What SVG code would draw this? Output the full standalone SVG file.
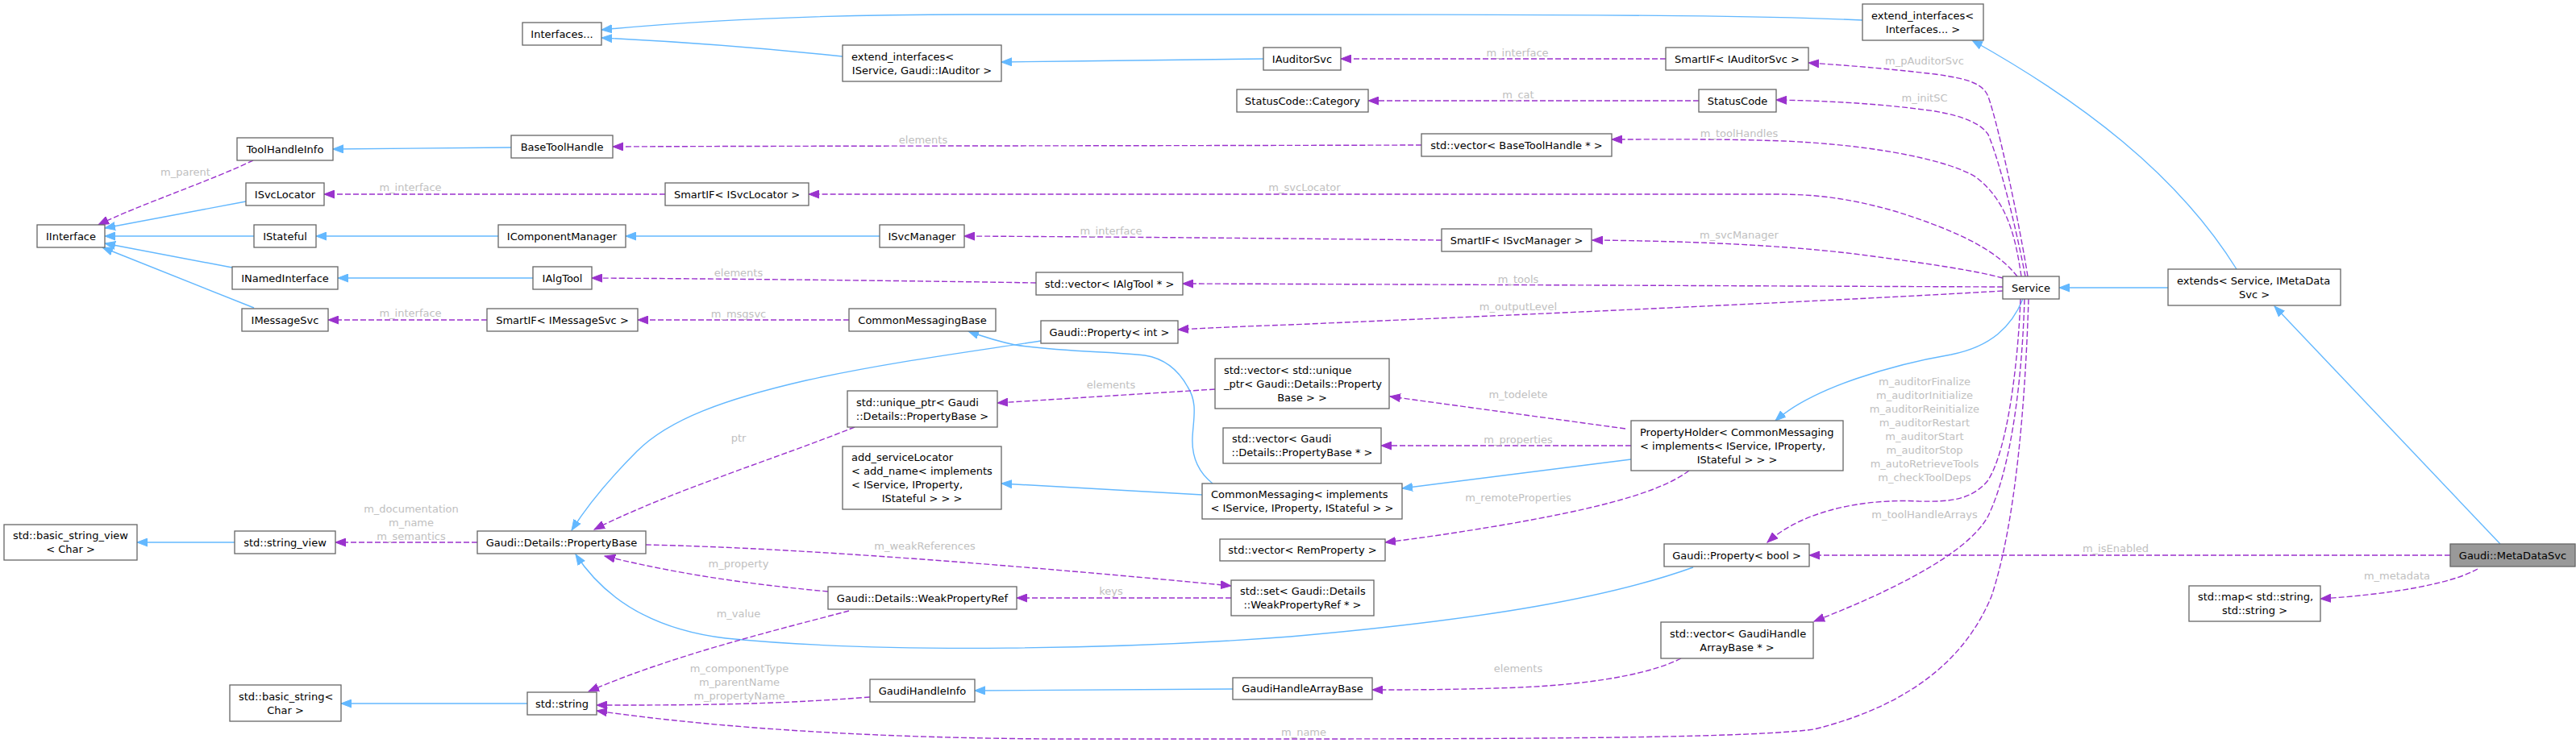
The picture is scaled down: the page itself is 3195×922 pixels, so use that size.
<svg xmlns="http://www.w3.org/2000/svg" width="3195" height="922" viewBox="0 0 3195 922">
<style>
.n rect{fill:#ffffff;stroke:#666666;stroke-width:1.3}
.n text{font-family:"DejaVu Sans",sans-serif;font-size:13px;fill:#000000}
.c{text-anchor:middle}
.s{text-anchor:start}
.lb{font-family:"DejaVu Sans",sans-serif;font-size:13px;fill:#c0c0c0;text-anchor:middle}
.b{fill:none;stroke:#63b8ff;stroke-width:1.4}
.p{fill:none;stroke:#9a32cd;stroke-width:1.4;stroke-dasharray:7,3}
</style>
<defs>
<marker id="ab" markerUnits="userSpaceOnUse" markerWidth="14" markerHeight="11" viewBox="0 0 14 11" refX="13" refY="5.5" orient="auto"><path d="M0,0.5 L13,5.5 L0,10.5 z" fill="#63b8ff" stroke="#63b8ff" stroke-width="1"/></marker>
<marker id="ap" markerUnits="userSpaceOnUse" markerWidth="14" markerHeight="11" viewBox="0 0 14 11" refX="13" refY="5.5" orient="auto"><path d="M0,0.5 L13,5.5 L0,10.5 z" fill="#9a32cd" stroke="#9a32cd" stroke-width="1"/></marker>
</defs>
<rect x="0" y="0" width="3195" height="922" fill="#ffffff"/>

<g id="connectors">
<!-- inheritance (blue) -->
<path class="b" marker-end="url(#ab)" d="M2310,25 C2200,20 2050,18 1600,18 L1200,18 C1000,18 850,27 746,37"/>
<path class="b" marker-end="url(#ab)" d="M1045,70 C950,60 850,52 746,47"/>
<path class="b" marker-end="url(#ab)" d="M1567,73 C1450,74 1350,76 1242,77"/>
<path class="b" marker-end="url(#ab)" d="M634,183 C550,183.5 480,184.5 413,185"/>
<path class="b" marker-end="url(#ab)" d="M305,250 L130,283"/>
<path class="b" marker-end="url(#ab)" d="M315,293 L130,293"/>
<path class="b" marker-end="url(#ab)" d="M288,332 L130,302"/>
<path class="b" marker-end="url(#ab)" d="M315,382 L127,307"/>
<path class="b" marker-end="url(#ab)" d="M618,293 L392,293"/>
<path class="b" marker-end="url(#ab)" d="M1091,293 L776,293"/>
<path class="b" marker-end="url(#ab)" d="M661,345 L419,345"/>
<path class="b" marker-end="url(#ab)" d="M1504,600 C1485,585 1478,565 1479,543 C1480,520 1486,500 1473,480 C1462,460 1445,445 1420,441 C1380,436 1320,437 1259,428 C1240,424 1220,418 1201,411"/>
<path class="b" marker-end="url(#ab)" d="M1291,423 C1200,437 1100,450 1000,472 C900,495 830,520 790,560 C760,590 730,625 709,658"/>
<path class="b" marker-end="url(#ab)" d="M2100,704 C2000,740 1850,768 1600,790 C1400,805 1100,812 900,792 C800,780 745,735 714,688"/>
<path class="b" marker-end="url(#ab)" d="M1491,614 L1242,600"/>
<path class="b" marker-end="url(#ab)" d="M2023,570 L1739,606"/>
<path class="b" marker-end="url(#ab)" d="M2509,371 C2495,405 2470,430 2420,440 C2350,452 2250,480 2202,522"/>
<path class="b" marker-end="url(#ab)" d="M2689,357 L2554,357"/>
<path class="b" marker-end="url(#ab)" d="M2774,334 C2700,215 2580,125 2446,50"/>
<path class="b" marker-end="url(#ab)" d="M3101,675 L2821,380"/>
<path class="b" marker-end="url(#ab)" d="M1529,855 L1209,857"/>
<path class="b" marker-end="url(#ab)" d="M654,873 L423,873"/>
<path class="b" marker-end="url(#ab)" d="M291,673 L170,673"/>

<!-- usage (purple dashed) -->
<path class="p" marker-end="url(#ap)" d="M314,199 C260,225 170,255 122,279"/>
<text class="lb" x="230" y="217.5">m_parent</text>
<path class="p" marker-end="url(#ap)" d="M825,241 L402,241"/>
<text class="lb" x="509" y="236.5">m_interface</text>
<path class="p" marker-end="url(#ap)" d="M604,397 L407,397"/>
<text class="lb" x="509" y="392.5">m_interface</text>
<path class="p" marker-end="url(#ap)" d="M1285,351 C1100,348 900,346 734,345"/>
<text class="lb" x="916" y="342.5">elements</text>
<path class="p" marker-end="url(#ap)" d="M1053,397 L791,397"/>
<text class="lb" x="916" y="393.5">m_msgsvc</text>
<path class="p" marker-end="url(#ap)" d="M1763,180 C1400,181 1000,181 760,182"/>
<text class="lb" x="1145" y="177.5">elements</text>
<path class="p" marker-end="url(#ap)" d="M2066,73 L1663,73"/>
<text class="lb" x="1882" y="69.5">m_interface</text>
<path class="p" marker-end="url(#ap)" d="M2107,125 L1697,125"/>
<text class="lb" x="1883" y="121.5">m_cat</text>
<path class="p" marker-end="url(#ap)" d="M1788,298 C1600,296 1400,294 1196,293"/>
<text class="lb" x="1378" y="290.5">m_interface</text>
<path class="p" marker-end="url(#ap)" d="M2515,343 C2505,280 2480,160 2466,120 C2460,105 2445,98 2400,92 C2340,85 2290,81 2243,78"/>
<text class="lb" x="2387" y="79.5">m_pAuditorSvc</text>
<path class="p" marker-end="url(#ap)" d="M2512,343 C2500,280 2480,200 2466,167 C2458,155 2440,145 2400,138 C2330,128 2260,125 2203,124"/>
<text class="lb" x="2387" y="125.5">m_initSC</text>
<path class="p" marker-end="url(#ap)" d="M2507,343 C2500,295 2490,250 2451,220 C2420,200 2330,180 2212,175 C2130,172 2060,173 1999,173"/>
<text class="lb" x="2157" y="169.5">m_toolHandles</text>
<path class="p" marker-end="url(#ap)" d="M2502,343 C2480,315 2440,290 2350,262 C2290,245 2250,241 2200,241 L1003,241"/>
<text class="lb" x="1618" y="236.5">m_svcLocator</text>
<path class="p" marker-end="url(#ap)" d="M2484,345 C2450,336 2400,328 2300,315 C2200,303 2080,299 1975,298"/>
<text class="lb" x="2157" y="295.5">m_svcManager</text>
<path class="p" marker-end="url(#ap)" d="M2484,356 C2200,355 1800,353 1467,352"/>
<text class="lb" x="1883" y="350.5">m_tools</text>
<path class="p" marker-end="url(#ap)" d="M2484,361 C2300,372 1900,390 1600,403 C1540,405 1500,407 1461,409"/>
<text class="lb" x="1883" y="384.5">m_outputLevel</text>
<path class="p" marker-end="url(#ap)" d="M1507,483 L1237,500"/>
<text class="lb" x="1378" y="481.5">elements</text>
<path class="p" marker-end="url(#ap)" d="M1060,530 C960,570 830,610 737,657"/>
<text class="lb" x="916" y="547.5">ptr</text>
<path class="p" marker-end="url(#ap)" d="M2016,532 L1724,492"/>
<text class="lb" x="1883" y="493.5">m_todelete</text>
<path class="p" marker-end="url(#ap)" d="M2023,553 L1713,553"/>
<text class="lb" x="1883" y="549.5">m_properties</text>
<path class="p" marker-end="url(#ap)" d="M2095,584 C2060,610 1990,630 1855,653 C1800,662 1760,668 1718,673"/>
<text class="lb" x="1883" y="621.5">m_remoteProperties</text>
<path class="p" marker-end="url(#ap)" d="M592,673 L416,673"/>
<text class="lb" x="510" y="635.5">m_documentation</text>
<text class="lb" x="510" y="652.5">m_name</text>
<text class="lb" x="510" y="669.5">m_semantics</text>
<path class="p" marker-end="url(#ap)" d="M801,676 C1000,680 1300,705 1527,727"/>
<text class="lb" x="1147" y="681.5">m_weakReferences</text>
<path class="p" marker-end="url(#ap)" d="M1027,734 C950,727 850,715 750,690"/>
<text class="lb" x="916" y="703.5">m_property</text>
<path class="p" marker-end="url(#ap)" d="M1527,742 L1261,742"/>
<text class="lb" x="1378" y="737.5">keys</text>
<path class="p" marker-end="url(#ap)" d="M1053,758 C950,785 830,815 730,858"/>
<text class="lb" x="916" y="765.5">m_value</text>
<path class="p" marker-end="url(#ap)" d="M1079,865 C950,875 850,875 740,875"/>
<text class="lb" x="917" y="833.5">m_componentType</text>
<text class="lb" x="917" y="850.5">m_parentName</text>
<text class="lb" x="917" y="867.5">m_propertyName</text>
<path class="p" marker-end="url(#ap)" d="M2516,371 C2512,500 2500,650 2470,740 C2445,800 2390,870 2250,905 C2150,918 1800,917 1310,917 C1100,916 900,905 740,882"/>
<text class="lb" x="1617" y="912.5">m_name</text>
<path class="p" marker-end="url(#ap)" d="M2506,371 C2503,450 2490,560 2465,597 C2445,620 2420,623 2380,622 C2320,619 2240,630 2192,673"/>
<text class="lb" x="2387" y="478">m_auditorFinalize</text>
<text class="lb" x="2387" y="495">m_auditorInitialize</text>
<text class="lb" x="2387" y="512">m_auditorReinitialize</text>
<text class="lb" x="2387" y="529">m_auditorRestart</text>
<text class="lb" x="2387" y="546">m_auditorStart</text>
<text class="lb" x="2387" y="563">m_auditorStop</text>
<text class="lb" x="2387" y="580">m_autoRetrieveTools</text>
<text class="lb" x="2387" y="597">m_checkToolDeps</text>
<path class="p" marker-end="url(#ap)" d="M2511,371 C2508,470 2495,580 2466,640 C2440,690 2330,740 2250,771"/>
<text class="lb" x="2387" y="643">m_toolHandleArrays</text>
<path class="p" marker-end="url(#ap)" d="M3039,689 L2244,689"/>
<text class="lb" x="2624" y="684.5">m_isEnabled</text>
<path class="p" marker-end="url(#ap)" d="M3073,706 C3040,725 2960,738 2878,743"/>
<text class="lb" x="2973" y="718.5">m_metadata</text>
<path class="p" marker-end="url(#ap)" d="M2085,817 C2040,840 1950,852 1855,854 C1790,856 1740,856 1702,856"/>
<text class="lb" x="1883" y="833.5">elements</text>
</g>

<g id="n_interfaces" class="n"><rect x="648" y="28" width="98" height="28"/><text class="c" x="697" y="46.5">Interfaces...</text></g>
<g id="n_extend_interfaces_all" class="n"><rect x="2310" y="5" width="150" height="45"/><text class="s" x="2321" y="23.5">extend_interfaces&lt;</text><text class="c" x="2385" y="40.5">Interfaces... &gt;</text></g>
<g id="n_extend_interfaces_auditor" class="n"><rect x="1045" y="56" width="197" height="45"/><text class="s" x="1056" y="74.5">extend_interfaces&lt;</text><text class="c" x="1143.5" y="91.5">IService, Gaudi::IAuditor &gt;</text></g>
<g id="n_iauditorsvc" class="n"><rect x="1567" y="59" width="96" height="28"/><text class="c" x="1615" y="77.5">IAuditorSvc</text></g>
<g id="n_smartif_iauditorsvc" class="n"><rect x="2066" y="59" width="177" height="28"/><text class="c" x="2154.5" y="77.5">SmartIF&lt; IAuditorSvc &gt;</text></g>
<g id="n_statuscode_category" class="n"><rect x="1534" y="111" width="163" height="28"/><text class="c" x="1615.5" y="129.5">StatusCode::Category</text></g>
<g id="n_statuscode" class="n"><rect x="2107" y="111" width="96" height="28"/><text class="c" x="2155" y="129.5">StatusCode</text></g>
<g id="n_toolhandleinfo" class="n"><rect x="294" y="171" width="119" height="28"/><text class="c" x="353.5" y="189.5">ToolHandleInfo</text></g>
<g id="n_basetoolhandle" class="n"><rect x="634" y="168" width="126" height="28"/><text class="c" x="697" y="186.5">BaseToolHandle</text></g>
<g id="n_vector_basetoolhandle" class="n"><rect x="1763" y="166" width="236" height="28"/><text class="c" x="1881" y="184.5">std::vector&lt; BaseToolHandle * &gt;</text></g>
<g id="n_isvclocator" class="n"><rect x="305" y="227" width="97" height="28"/><text class="c" x="353.5" y="245.5">ISvcLocator</text></g>
<g id="n_smartif_isvclocator" class="n"><rect x="825" y="227" width="178" height="28"/><text class="c" x="914" y="245.5">SmartIF&lt; ISvcLocator &gt;</text></g>
<g id="n_iinterface" class="n"><rect x="46" y="279" width="84" height="28"/><text class="c" x="88" y="297.5">IInterface</text></g>
<g id="n_istateful" class="n"><rect x="315" y="279" width="77" height="28"/><text class="c" x="353.5" y="297.5">IStateful</text></g>
<g id="n_icomponentmanager" class="n"><rect x="618" y="279" width="158" height="28"/><text class="c" x="697" y="297.5">IComponentManager</text></g>
<g id="n_isvcmanager" class="n"><rect x="1091" y="279" width="105" height="28"/><text class="c" x="1143.5" y="297.5">ISvcManager</text></g>
<g id="n_smartif_isvcmanager" class="n"><rect x="1788" y="284" width="186" height="28"/><text class="c" x="1881" y="302.5">SmartIF&lt; ISvcManager &gt;</text></g>
<g id="n_inamedinterface" class="n"><rect x="288" y="331" width="131" height="28"/><text class="c" x="353.5" y="349.5">INamedInterface</text></g>
<g id="n_ialgtool" class="n"><rect x="661" y="331" width="73" height="28"/><text class="c" x="697.5" y="349.5">IAlgTool</text></g>
<g id="n_vector_ialgtool" class="n"><rect x="1285" y="338" width="182" height="28"/><text class="c" x="1376" y="356.5">std::vector&lt; IAlgTool * &gt;</text></g>
<g id="n_service" class="n"><rect x="2484" y="343" width="70" height="28"/><text class="c" x="2519" y="361.5">Service</text></g>
<g id="n_extends" class="n"><rect x="2689" y="334" width="214" height="45"/><text class="s" x="2700" y="352.5">extends&lt; Service, IMetaData</text><text class="c" x="2796" y="369.5">Svc &gt;</text></g>
<g id="n_imessagesvc" class="n"><rect x="300" y="383" width="107" height="28"/><text class="c" x="353.5" y="401.5">IMessageSvc</text></g>
<g id="n_smartif_imessagesvc" class="n"><rect x="604" y="383" width="187" height="28"/><text class="c" x="697.5" y="401.5">SmartIF&lt; IMessageSvc &gt;</text></g>
<g id="n_commonmessagingbase" class="n"><rect x="1053" y="383" width="182" height="28"/><text class="c" x="1144" y="401.5">CommonMessagingBase</text></g>
<g id="n_property_int" class="n"><rect x="1291" y="398" width="170" height="28"/><text class="c" x="1376" y="416.5">Gaudi::Property&lt; int &gt;</text></g>
<g id="n_vector_unique_ptr" class="n"><rect x="1507" y="445" width="216" height="62"/><text class="s" x="1518" y="463.5">std::vector&lt; std::unique</text><text class="s" x="1518" y="480.5">_ptr&lt; Gaudi::Details::Property</text><text class="c" x="1615" y="497.5">Base &gt; &gt;</text></g>
<g id="n_unique_ptr" class="n"><rect x="1051" y="485" width="186" height="45"/><text class="s" x="1062" y="503.5">std::unique_ptr&lt; Gaudi</text><text class="c" x="1144" y="520.5">::Details::PropertyBase &gt;</text></g>
<g id="n_vector_propertybase" class="n"><rect x="1517" y="531" width="196" height="44"/><text class="s" x="1528" y="549">std::vector&lt; Gaudi</text><text class="c" x="1615" y="566">::Details::PropertyBase * &gt;</text></g>
<g id="n_propertyholder" class="n"><rect x="2023" y="522" width="263" height="62"/><text class="s" x="2034" y="540.5">PropertyHolder&lt; CommonMessaging</text><text class="s" x="2034" y="557.5">&lt; implements&lt; IService, IProperty,</text><text class="c" x="2154.5" y="574.5">IStateful &gt; &gt; &gt;</text></g>
<g id="n_add_servicelocator" class="n"><rect x="1045" y="554" width="197" height="78"/><text class="s" x="1056" y="572">add_serviceLocator</text><text class="s" x="1056" y="589">&lt; add_name&lt; implements</text><text class="s" x="1056" y="606">&lt; IService, IProperty,</text><text class="c" x="1143.5" y="623">IStateful &gt; &gt; &gt;</text></g>
<g id="n_commonmessaging" class="n"><rect x="1491" y="600" width="248" height="44"/><text class="s" x="1502" y="618">CommonMessaging&lt; implements</text><text class="c" x="1615" y="635">&lt; IService, IProperty, IStateful &gt; &gt;</text></g>
<g id="n_basic_string_view" class="n"><rect x="5" y="651" width="165" height="44"/><text class="s" x="16" y="669">std::basic_string_view</text><text class="c" x="87.5" y="686">&lt; Char &gt;</text></g>
<g id="n_string_view" class="n"><rect x="291" y="659" width="125" height="28"/><text class="c" x="353.5" y="677.5">std::string_view</text></g>
<g id="n_propertybase" class="n"><rect x="592" y="659" width="209" height="28"/><text class="c" x="696.5" y="677.5">Gaudi::Details::PropertyBase</text></g>
<g id="n_vector_remproperty" class="n"><rect x="1513" y="669" width="205" height="27"/><text class="c" x="1615.5" y="687">std::vector&lt; RemProperty &gt;</text></g>
<g id="n_property_bool" class="n"><rect x="2064" y="675" width="180" height="28"/><text class="c" x="2154" y="693.5">Gaudi::Property&lt; bool &gt;</text></g>
<g id="n_metadatasvc" class="n"><rect x="3039" y="675" width="155" height="28" style="fill:#999999"/><text class="c" x="3116.5" y="693.5">Gaudi::MetaDataSvc</text></g>
<g id="n_set_weakpropertyref" class="n"><rect x="1527" y="720" width="177" height="44"/><text class="s" x="1538" y="738">std::set&lt; Gaudi::Details</text><text class="c" x="1615.5" y="755">::WeakPropertyRef * &gt;</text></g>
<g id="n_weakpropertyref" class="n"><rect x="1027" y="728" width="234" height="28"/><text class="c" x="1144" y="746.5">Gaudi::Details::WeakPropertyRef</text></g>
<g id="n_map" class="n"><rect x="2715" y="727" width="163" height="44"/><text class="s" x="2726" y="745">std::map&lt; std::string,</text><text class="c" x="2796.5" y="762">std::string &gt;</text></g>
<g id="n_vector_gaudihandlearraybase" class="n"><rect x="2060" y="772" width="189" height="45"/><text class="s" x="2071" y="790.5">std::vector&lt; GaudiHandle</text><text class="c" x="2154.5" y="807.5">ArrayBase * &gt;</text></g>
<g id="n_basic_string" class="n"><rect x="285" y="850" width="138" height="45"/><text class="s" x="296" y="868.5">std::basic_string&lt;</text><text class="c" x="354" y="885.5">Char &gt;</text></g>
<g id="n_string" class="n"><rect x="654" y="859" width="86" height="28"/><text class="c" x="697" y="877.5">std::string</text></g>
<g id="n_gaudihandleinfo" class="n"><rect x="1079" y="843" width="130" height="28"/><text class="c" x="1144" y="861.5">GaudiHandleInfo</text></g>
<g id="n_gaudihandlearraybase" class="n"><rect x="1529" y="841" width="173" height="27"/><text class="c" x="1615.5" y="859">GaudiHandleArrayBase</text></g>
</svg>
